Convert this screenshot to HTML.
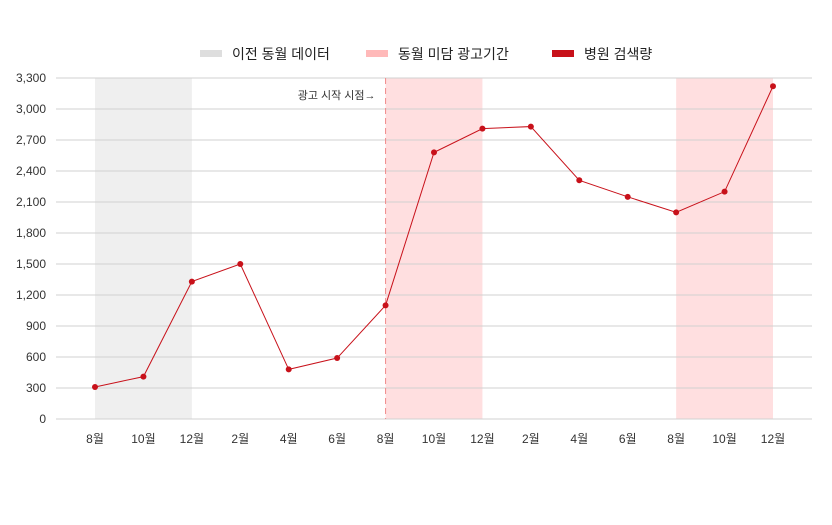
<!DOCTYPE html>
<html><head><meta charset="utf-8"><style>
body{margin:0;background:#fff;}
svg{display:block;font-family:"Liberation Sans","Noto Sans CJK KR",sans-serif;}
</style></head><body>
<svg id="c" width="832" height="525">
<g id="legend">
 <g><rect x="200" y="50" width="22" height="7" fill="#dedede"/><text x="232" y="59" font-size="14" fill="#222">이전 동월 데이터</text></g>
 <g><rect x="366" y="50" width="22" height="7" fill="#ffb9b9"/><text x="398" y="59" font-size="14" fill="#222">동월 미담 광고기간</text></g>
 <g><rect x="552" y="50" width="22" height="7" fill="#c8111a"/><text x="584" y="59" font-size="14" fill="#222">병원 검색량</text></g>
</g>
<g id="bands"></g><g id="grid"></g><g id="ticks"></g><g id="series"></g>
</svg>
<script>
const categories=["8월","10월","12월","2월","4월","6월","8월","10월","12월","2월","4월","6월","8월","10월","12월"];
const values=[310,410,1330,1500,480,590,1100,2580,2810,2830,2310,2150,2000,2200,3220];
const yTicks=[0,300,600,900,1200,1500,1800,2100,2400,2700,3000,3300];
const grayBand=[0,2];
const pinkBands=[[6,8],[12,14]];
const adStartIndex=6;
const NS="http://www.w3.org/2000/svg";
const x=i=>95+i*(773-95)/(categories.length-1);
const y=v=>419-v*(341/3300);
function mk(t,a,p){const e=document.createElementNS(NS,t);for(const k in a)e.setAttribute(k,a[k]);p.appendChild(e);return e;}
const bands=document.getElementById('bands'),grid=document.getElementById('grid'),ticks=document.getElementById('ticks'),series=document.getElementById('series');
let b=mk('rect',{x:x(grayBand[0]),y:y(3300),width:x(grayBand[1])-x(grayBand[0]),height:y(0)-y(3300),fill:'#efefef'},bands);


pinkBands.forEach(r=>{const e=mk('rect',{x:x(r[0]),y:y(3300),width:x(r[1])-x(r[0]),height:y(0)-y(3300),fill:'#ffdfe0'},bands);

});
yTicks.forEach(v=>{const l=mk('line',{x1:56,x2:812,y1:y(v),y2:y(v),stroke:'#d0d0d0','stroke-width':1},grid);


const t=mk('text',{x:46,y:y(v)+4,'font-size':12,'text-anchor':'end',fill:'#333'},ticks);t.textContent=v.toLocaleString('en-US');

});
categories.forEach((c,i)=>{const t=mk('text',{x:x(i),y:443,'font-size':12,'text-anchor':'middle',fill:'#333'},ticks);t.textContent=c;

});
const dl=mk('line',{x1:x(adStartIndex),x2:x(adStartIndex),y1:y(3300),y2:y(0),stroke:'#f08a8a','stroke-dasharray':'6,4','stroke-width':1},series);


const an=mk('text',{x:x(adStartIndex)-10,y:99,'font-size':11,'text-anchor':'end',fill:'#333'},series);an.textContent='광고 시작 시점→';


const pl=mk('polyline',{points:values.map((v,i)=>x(i)+','+y(v)).join(' '),fill:'none',stroke:'#c8111a','stroke-width':1},series);


values.forEach((v,i)=>{const p=mk('circle',{cx:x(i),cy:y(v),r:3,fill:'#c8111a'},series);

});
</script>
</body></html>
